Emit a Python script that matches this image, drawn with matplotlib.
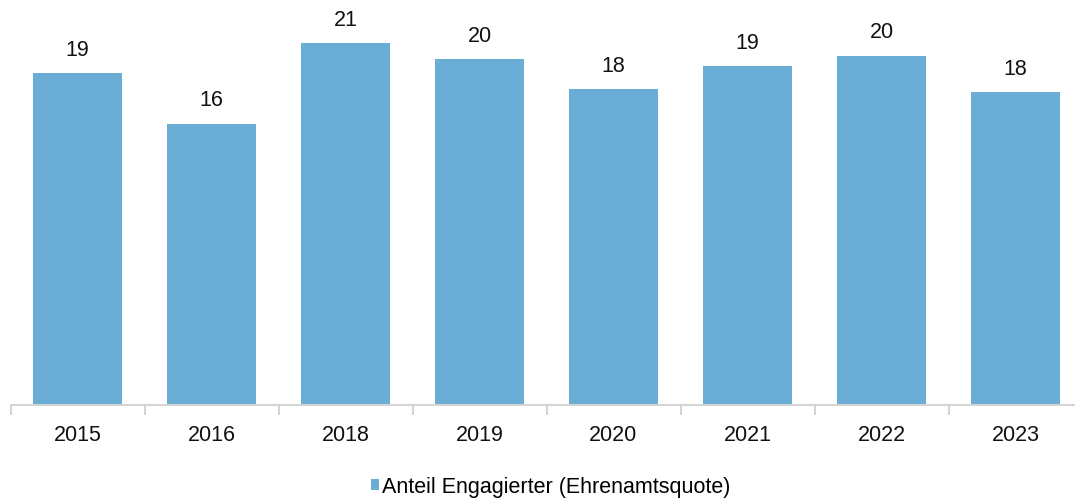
import matplotlib
matplotlib.use("Agg")
import matplotlib.pyplot as plt
from matplotlib.patches import Patch

plt.rcParams['font.family'] = ['Liberation Sans', 'DejaVu Sans']

years = ["2015", "2016", "2018", "2019", "2020", "2021", "2022", "2023"]
quote = [19.0, 16.1, 20.7, 19.8, 18.1, 19.4, 20.0, 17.9]
series_name = "Anteil Engagierter (Ehrenamtsquote)"

bar_color = '#6aaed6'
axis_color = '#d4d4d4'

fig = plt.figure(figsize=(10.75, 5.02), dpi=100)
ax = fig.add_axes([10.5 / 1075, 96.5 / 502, 1072 / 1075, 396 / 502])

x = list(range(len(years)))
bars = ax.bar(x, quote, width=0.665, color=bar_color, zorder=2)

for b, v in zip(bars, quote):
    ax.annotate(f"{v:.0f}", (b.get_x() + b.get_width() / 2, v),
                xytext=(0, 9.5), textcoords='offset points',
                ha='center', va='bottom', fontsize=15.5, color='#111111')

ax.set_xlim(-0.5, len(years) - 0.5)
ax.set_ylim(0, 22.7)
ax.set_yticks([])
ax.set_xticks(x)
ax.set_xticklabels(years, fontsize=15.5, color='#111111')
ax.tick_params(axis='x', length=0, pad=14)

# category separators on the x axis
ax.set_xticks([i - 0.5 for i in range(len(years) + 1)], minor=True)
ax.tick_params(axis='x', which='minor', length=7, width=1.5, color=axis_color)

for side in ['top', 'right', 'left']:
    ax.spines[side].set_visible(False)
ax.spines['bottom'].set_color(axis_color)
ax.spines['bottom'].set_linewidth(1.5)

handle = Patch(facecolor=bar_color, edgecolor='none')
fig.legend([handle], [series_name], loc='center', bbox_to_anchor=(0.512, 1 - 488 / 502),
           frameon=False, fontsize=15.5, handlelength=0.4, handleheight=0.4,
           handletextpad=0.1)

fig.savefig("out.png", dpi=100)
